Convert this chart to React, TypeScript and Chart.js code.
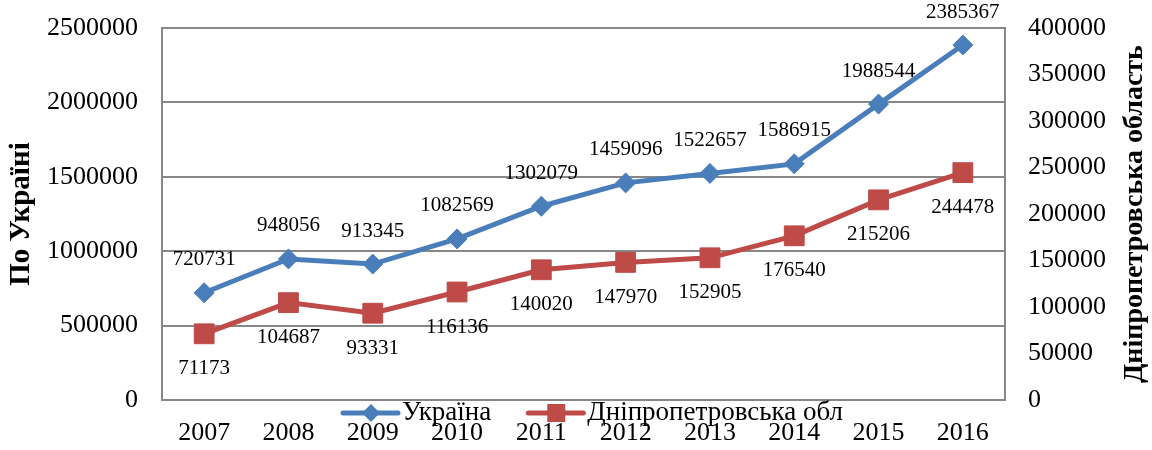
import React, { useEffect, useRef } from 'react';
import { Chart, registerables } from 'chart.js';

Chart.register(...registerables);

const years = ['2007', '2008', '2009', '2010', '2011', '2012', '2013', '2014', '2015', '2016'];
const ukraine = [720731, 948056, 913345, 1082569, 1302079, 1459096, 1522657, 1586915, 1988544, 2385367];
const dnipro = [71173, 104687, 93331, 116136, 140020, 147970, 152905, 176540, 215206, 244478];
const seriesNames = ['Україна', 'Дніпропетровська обл'];
const leftTitle = 'По Україні';
const rightTitle = 'Дніпропетровська область';

const FONT = '"Liberation Serif", "Times New Roman", serif';
const BLUE = '#4A7EBB';
const RED = '#BE4B48';
const GRID = '#878787';

const extras = {
  id: 'extras',
  afterDraw(chart: any) {
    const ctx = chart.ctx as CanvasRenderingContext2D;
    const area = chart.chartArea;
    ctx.save();
    // data labels
    ctx.font = `21px ${FONT}`;
    ctx.fillStyle = '#000';
    ctx.textAlign = 'center';
    ctx.textBaseline = 'middle';
    chart.data.datasets.forEach((ds: any, di: number) => {
      const meta = chart.getDatasetMeta(di);
      meta.data.forEach((pt: any, i: number) => {
        const dy = di === 0 ? -33 : 35;
        ctx.fillText(String(ds.data[i]), pt.x, pt.y + dy);
      });
    });
    // axis titles
    const midY = (area.top + area.bottom) / 2;
    ctx.font = `bold 29px ${FONT}`;
    ctx.save();
    ctx.translate(22, midY);
    ctx.rotate(-Math.PI / 2);
    ctx.fillText(leftTitle, 0, 0);
    ctx.restore();
    ctx.font = `bold 28px ${FONT}`;
    ctx.save();
    ctx.translate(chart.width - 17, midY);
    ctx.rotate(-Math.PI / 2);
    ctx.fillText(rightTitle, 0, 0);
    ctx.restore();
    // legend
    ctx.font = `27px ${FONT}`;
    ctx.textAlign = 'left';
    const ly = area.bottom + 13;
    let x = area.left + 181;
    chart.data.datasets.forEach((ds: any, di: number) => {
      ctx.strokeStyle = ds.borderColor;
      ctx.lineWidth = 5;
      ctx.lineCap = 'round';
      ctx.beginPath();
      ctx.moveTo(x, ly);
      ctx.lineTo(x + 55, ly);
      ctx.stroke();
      ctx.fillStyle = ds.borderColor;
      const cx = x + 28;
      ctx.beginPath();
      if (di === 0) {
        const r = 9;
        ctx.moveTo(cx, ly - r);
        ctx.lineTo(cx + r, ly);
        ctx.lineTo(cx, ly + r);
        ctx.lineTo(cx - r, ly);
        ctx.closePath();
      } else {
        ctx.rect(cx - 9, ly - 9, 18, 18);
      }
      ctx.fill();
      ctx.fillStyle = '#000';
      ctx.fillText(ds.label, x + 59, ly);
      x += 59 + ctx.measureText(ds.label).width + 37;
    });
    ctx.restore();
  },
};

const plain = (v: any) => String(v);

export default function App() {
  const ref = useRef<HTMLCanvasElement | null>(null);
  useEffect(() => {
    document.body.style.margin = '0';
    const canvas = ref.current;
    if (!canvas) return;
    const chart = new Chart(canvas, {
      type: 'line',
      data: {
        labels: years,
        datasets: [
          {
            label: seriesNames[0],
            data: ukraine,
            yAxisID: 'y',
            borderColor: BLUE,
            backgroundColor: BLUE,
            borderWidth: 5,
            pointStyle: 'rectRot',
            pointRadius: 10,
            pointBorderWidth: 1,
            pointBackgroundColor: BLUE,
            pointBorderColor: BLUE,
            tension: 0,
          },
          {
            label: seriesNames[1],
            data: dnipro,
            yAxisID: 'y1',
            borderColor: RED,
            backgroundColor: RED,
            borderWidth: 5,
            pointStyle: 'rect',
            pointRadius: 14,
            pointBorderWidth: 1,
            pointBackgroundColor: RED,
            pointBorderColor: RED,
            tension: 0,
          },
        ],
      },
      options: {
        animation: false,
        responsive: true,
        maintainAspectRatio: false,
        layout: { padding: { top: 28, left: 0, right: 0, bottom: 0 } },
        plugins: { legend: { display: false }, tooltip: { enabled: false } },
        scales: {
          x: {
            offset: true,
            grid: { display: false, drawTicks: false },
            border: { display: true, color: GRID, width: 2 },
            ticks: { color: '#000', font: { family: FONT, size: 26 }, padding: 18, maxRotation: 0 },
            afterFit: (s: any) => { s.height = 50; s.paddingLeft = 0; s.paddingRight = 0; },
          },
          y: {
            position: 'left',
            min: 0,
            max: 2500000,
            ticks: { stepSize: 500000, color: '#000', font: { family: FONT, size: 26 }, padding: 24, callback: plain },
            grid: { color: GRID, lineWidth: 2, drawTicks: false },
            border: { display: true, color: GRID, width: 2 },
            afterFit: (s: any) => { s.width = 162; s.paddingTop = 0; s.paddingBottom = 0; },
          },
          y1: {
            position: 'right',
            min: 0,
            max: 400000,
            ticks: { stepSize: 50000, color: '#000', font: { family: FONT, size: 26 }, padding: 23, callback: plain },
            grid: { display: false, drawTicks: false },
            border: { display: true, color: GRID, width: 2 },
            afterFit: (s: any) => { s.width = 147; s.paddingTop = 0; s.paddingBottom = 0; },
          },
        },
      },
      plugins: [extras],
    } as any);
    return () => chart.destroy();
  }, []);
  return (
    <div style={{ position: 'relative', width: 1152, height: 450 }}>
      <canvas ref={ref} />
    </div>
  );
}
